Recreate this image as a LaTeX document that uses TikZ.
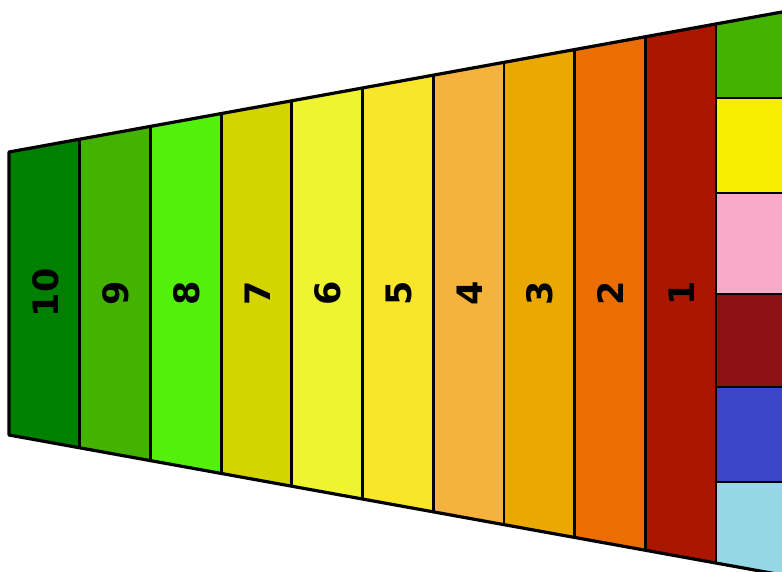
\documentclass[tikz,border=0pt]{standalone}
\usepackage{fontspec}
\setmainfont{DejaVu Sans}
\definecolor{band10}{RGB}{0,128,0}
\definecolor{band9}{RGB}{68,178,0}
\definecolor{band8}{RGB}{82,240,10}
\definecolor{band7}{RGB}{212,212,0}
\definecolor{band6}{RGB}{238,245,48}
\definecolor{band5}{RGB}{250,230,40}
\definecolor{band4}{RGB}{245,178,60}
\definecolor{band3}{RGB}{235,168,0}
\definecolor{band2}{RGB}{235,110,5}
\definecolor{band1}{RGB}{170,22,0}
\definecolor{sidegreen}{RGB}{68,178,0}
\definecolor{sideyellow}{RGB}{250,238,0}
\definecolor{sidepink}{RGB}{250,170,200}
\definecolor{sidemaroon}{RGB}{140,18,20}
\definecolor{sideblue}{RGB}{60,70,200}
\definecolor{sidesky}{RGB}{150,215,230}
\begin{document}
\begin{tikzpicture}[x=1pt,y=-1pt,
  declare function={ytop(\x)=152-0.1811*(\x-9); ybot(\x)=435+0.1811*(\x-9);},
  divider/.style={draw=black,line width=2.8pt},
  outline/.style={draw=black,line width=3.2pt,line join=round},
  num/.style={font=\fontsize{35}{35}\selectfont\bfseries,rotate=90,inner sep=0pt}
]
\useasboundingbox (0,0) rectangle (782,572);

% bands, 10 on the left down to 1 on the right
\foreach \n [count=\i from 0] in {10,9,8,7,6,5,4,3,2,1} {
  \pgfmathsetmacro\xa{9+70.7*\i}
  \pgfmathsetmacro\xb{9+70.7*(\i+1)}
  \fill[band\n] (\xa,{ytop(\xa)}) -- (\xb,{ytop(\xb)}) -- (\xb,{ybot(\xb)}) -- (\xa,{ybot(\xa)}) -- cycle;
  \node[num] (band\n) at ({(\xa+\xb)/2+1},293) {\n};
}

% side column
\begin{scope}
  \clip (716,{ytop(716)}) -- (800,{ytop(800)}) -- (800,{ybot(800)}) -- (716,{ybot(716)}) -- cycle;
  \foreach \ya/\yb/\col in {0/98/sidegreen,98/193/sideyellow,193/294/sidepink,294/387/sidemaroon,387/482/sideblue,482/600/sidesky} {
    \fill[\col] (716,\ya) rectangle (800,\yb);
  }
  \foreach \y in {98,193,294,387,482} {
    \draw[divider] (716,\y) -- (800,\y);
  }
\end{scope}

% dividers
\foreach \i in {1,...,10} {
  \pgfmathsetmacro\xa{9+70.7*\i}
  \draw[divider] (\xa,{ytop(\xa)}) -- (\xa,{ybot(\xa)});
}
\draw[outline] (800,{ytop(800)}) -- (9,152) -- (9,435) -- (800,{ybot(800)});
\end{tikzpicture}
\end{document}
